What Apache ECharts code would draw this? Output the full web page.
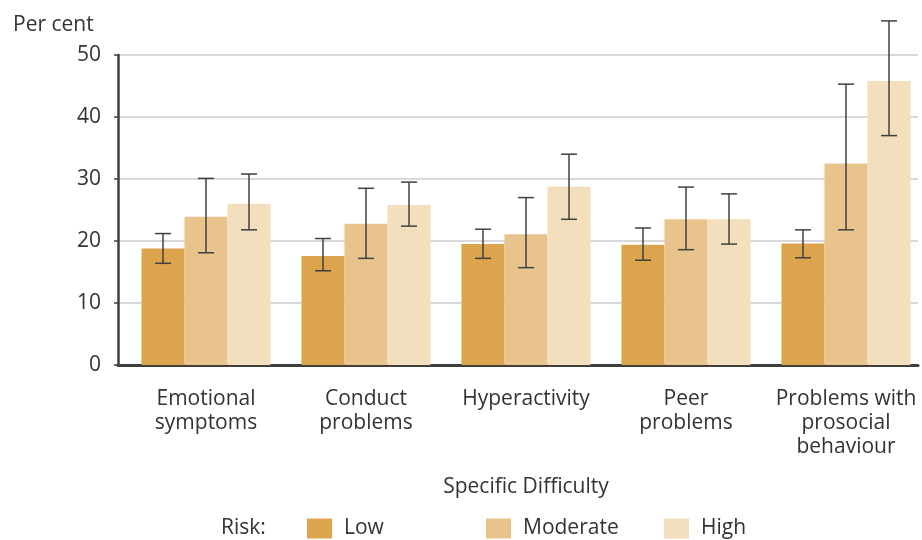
<!DOCTYPE html>
<html>
<head>
<meta charset="utf-8">
<script src="https://cdn.jsdelivr.net/npm/echarts@6/dist/echarts.min.js"></script>
<style>
html,body{margin:0;padding:0;background:#fff;}
#c{width:922px;height:540px;}
</style>
</head>
<body>
<div id="c"></div>
<script>
const categories = ['Emotional\nsymptoms', 'Conduct\nproblems', 'Hyperactivity', 'Peer\nproblems', 'Problems with\nprosocial\nbehaviour'];
const seriesNames = ['Low', 'Moderate', 'High'];
const low = [18.8, 17.6, 19.5, 19.4, 19.6];
const moderate = [23.9, 22.8, 21.1, 23.5, 32.5];
const high = [26.0, 25.8, 28.8, 23.5, 45.8];
const lowLower = [16.4, 15.2, 17.2, 16.9, 17.3];
const lowUpper = [21.2, 20.4, 21.9, 22.1, 21.8];
const modLower = [18.1, 17.2, 15.7, 18.6, 21.8];
const modUpper = [30.1, 28.5, 27.0, 28.7, 45.3];
const highLower = [21.8, 22.4, 23.5, 19.5, 37.0];
const highUpper = [30.8, 29.5, 34.0, 27.6, 55.5];
const yTicks = [0, 10, 20, 30, 40, 50];

const colors = ['#DBA44D', '#E8C48C', '#F3DEBE'];
const BAR_W = 43, SPACER_W = 16, CAP = 8;
const FONT = '"Open Sans", sans-serif';
const FS = 21;

const values = [low, moderate, high];
const lowers = [lowLower, modLower, highLower];
const uppers = [lowUpper, modUpper, highUpper];
const legendLeft = [302, 481, 659];

function errOffset(k) {
  const groupW = SPACER_W + 3 * BAR_W;
  return -groupW / 2 + SPACER_W + BAR_W * (k + 0.5);
}

function makeErr(k) {
  return {
    type: 'custom',
    name: seriesNames[k] + ' CI',
    clip: false,
    z: 10,
    silent: true,
    encode: { x: 0, y: [1, 2] },
    data: categories.map((c, i) => [i, lowers[k][i], uppers[k][i]]),
    renderItem: function (params, api) {
      const a = api.coord([api.value(0), api.value(1)]);
      const b = api.coord([api.value(0), api.value(2)]);
      const x = a[0] + errOffset(k);
      const st = { stroke: '#404040', lineWidth: 1.5 };
      return {
        type: 'group',
        children: [
          { type: 'line', shape: { x1: x, y1: a[1], x2: x, y2: b[1] }, style: st },
          { type: 'line', shape: { x1: x - CAP, y1: a[1], x2: x + CAP, y2: a[1] }, style: st },
          { type: 'line', shape: { x1: x - CAP, y1: b[1], x2: x + CAP, y2: b[1] }, style: st }
        ]
      };
    }
  };
}

const series = [{
  type: 'bar', name: '_spacer', barWidth: SPACER_W, barGap: '0%',
  data: categories.map(() => null), silent: true
}];
seriesNames.forEach((n, k) => {
  series.push({
    type: 'bar', name: n, barWidth: BAR_W, barGap: '0%',
    itemStyle: { color: colors[k] },
    data: values[k]
  });
});
seriesNames.forEach((n, k) => series.push(makeErr(k)));

const legends = seriesNames.map((n, k) => ({
  data: [n],
  left: legendLeft[k], top: 513,
  itemWidth: 25, itemHeight: 20, itemGap: 0,
  icon: 'rect',
  selectedMode: false,
  textStyle: { fontFamily: FONT, fontSize: FS, color: '#333', padding: [0, 0, 0, 7] }
}));

const chart = echarts.init(document.getElementById('c'), null, { renderer: 'canvas' });
chart.setOption({
  animation: false,
  backgroundColor: '#ffffff',
  textStyle: { fontFamily: FONT },
  title: [
    { text: 'Per cent', left: 8, top: 10, textStyle: { fontFamily: FONT, fontSize: FS, fontWeight: 'normal', color: '#333' } },
    { text: 'Risk:', left: 216, top: 513, textStyle: { fontFamily: FONT, fontSize: FS, fontWeight: 'normal', color: '#333' } }
  ],
  legend: legends,
  grid: { left: 118, right: 4, top: 55, bottom: 175, containLabel: false },
  xAxis: {
    type: 'category',
    data: categories,
    axisLine: { lineStyle: { color: '#3f3f3f', width: 3 } },
    axisTick: { show: false },
    axisLabel: { fontFamily: FONT, fontSize: FS, color: '#333', lineHeight: 24, margin: 22, padding: [0, 0, 0, 16], interval: 0 },
    name: 'Specific Difficulty',
    nameLocation: 'middle',
    nameGap: 112,
    nameTextStyle: { fontFamily: FONT, fontSize: FS, color: '#333', padding: [0, 0, 0, 16] }
  },
  yAxis: {
    type: 'value',
    min: yTicks[0], max: yTicks[yTicks.length - 1], interval: 10,
    axisLine: { show: true, lineStyle: { color: '#3f3f3f', width: 2.5 } },
    axisTick: { show: true, length: 4, lineStyle: { color: '#3f3f3f', width: 1.5 } },
    axisLabel: { fontFamily: FONT, fontSize: FS, color: '#333', margin: 17 },
    splitLine: { show: true, lineStyle: { color: '#d8d8dd', width: 2 } }
  },
  series: series
});
</script>
</body>
</html>
